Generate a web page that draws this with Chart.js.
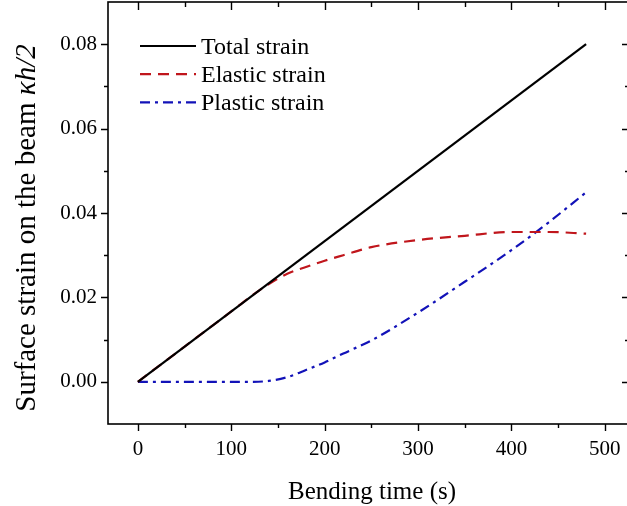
<!DOCTYPE html>
<html>
<head>
<meta charset="utf-8">
<script src="https://cdn.jsdelivr.net/npm/chart.js@4.4.1/dist/chart.umd.min.js"></script>
<style>
  html, body { margin: 0; padding: 0; background: #fff; overflow: hidden; }
  #wrap { width: 630px; height: 506px; }
</style>
</head>
<body>
<div id="wrap"><canvas id="c" width="630" height="506"></canvas></div>
<script>
// ---- data ----
const totalTime    = [0, 480];
const totalStrain  = [0, 0.080];
const elasticTime  = [0, 60, 100, 130, 145, 160, 180, 200, 220, 250, 300, 350, 400, 440, 480];
const elasticStrain= [0, 0.0100, 0.01667, 0.02167, 0.0238, 0.0256, 0.0272, 0.0287, 0.0300, 0.0319, 0.0336, 0.0346, 0.0355, 0.0355, 0.0351];
const plasticTime  = [0, 120, 140, 160, 180, 200, 220, 250, 300, 350, 400, 440, 480];
const plasticStrain= [0, 0, 0.0002, 0.0011, 0.0028, 0.0046, 0.0067, 0.0098, 0.0164, 0.0237, 0.0312, 0.0378, 0.0449];
const xMajorTicks  = [0, 100, 200, 300, 400, 500];
const xMinorTicks  = [50, 150, 250, 350, 450];
const yMajorTicks  = [0.00, 0.02, 0.04, 0.06, 0.08];
const yMinorTicks  = [0.01, 0.03, 0.05, 0.07];
const seriesNames  = ['Total strain', 'Elastic strain', 'Plastic strain'];
const xTitle = 'Bending time (s)';
const yTitlePlain = 'Surface strain on the beam ';
const yTitleItalic = '\u03BAh/2';

const pts = (xs, ys) => xs.map((x, i) => ({x: x, y: ys[i]}));

const SERIF = '"Liberation Serif", "Times New Roman", serif';
Chart.defaults.font.family = SERIF;
Chart.defaults.color = '#000';

const framePlugin = {
  id: 'frameTicks',
  afterDraw(chart) {
    const ctx = chart.ctx, a = chart.chartArea;
    const xs = chart.scales.x, ys = chart.scales.y;
    ctx.save();
    ctx.strokeStyle = '#000';
    ctx.lineWidth = 1.6;
    ctx.strokeRect(a.left, a.top, a.right - a.left, a.bottom - a.top);
    ctx.lineWidth = 1.4;
    ctx.beginPath();
    const xt = (vals, len) => vals.forEach(v => {
      const p = Math.round(xs.getPixelForValue(v)) + 0.5;
      ctx.moveTo(p, a.bottom); ctx.lineTo(p, a.bottom + len);      // outward bottom
      ctx.moveTo(p, a.top);    ctx.lineTo(p, a.top + len + 1);     // inward top
    });
    const yt = (vals, len) => vals.forEach(v => {
      const p = Math.round(ys.getPixelForValue(v)) + 0.5;
      ctx.moveTo(a.left, p);  ctx.lineTo(a.left - len, p);         // outward left
      ctx.moveTo(a.right, p); ctx.lineTo(a.right - len - 1, p);    // inward right
    });
    xt(xMajorTicks, 7); xt(xMinorTicks, 4);
    yt(yMajorTicks, 7); yt(yMinorTicks, 4);
    ctx.stroke();

    // legend
    ctx.font = '24px ' + SERIF;
    ctx.textAlign = 'left';
    ctx.textBaseline = 'alphabetic';
    chart.data.datasets.forEach((ds, i) => {
      const cy = 46 + i * 28.2;
      ctx.strokeStyle = ds.borderColor;
      ctx.lineWidth = ds.borderWidth;
      ctx.setLineDash(ds.borderDash || []);
      ctx.beginPath();
      ctx.moveTo(140, cy); ctx.lineTo(196, cy);
      ctx.stroke();
      ctx.setLineDash([]);
      ctx.fillStyle = '#000';
      ctx.fillText(ds.label, 201, cy + 7.5);
    });

    // y-axis title (mixed upright / italic)
    ctx.save();
    ctx.translate(35, 228);
    ctx.rotate(-Math.PI / 2);
    ctx.fillStyle = '#000';
    const fPlain = '29px ' + SERIF, fIt = 'italic 29px ' + SERIF;
    ctx.font = fPlain; const w1 = ctx.measureText(yTitlePlain).width;
    ctx.font = fIt; const w2 = ctx.measureText(yTitleItalic).width;
    const x0 = -(w1 + w2) / 2;
    ctx.textAlign = 'left';
    ctx.font = fPlain; ctx.fillText(yTitlePlain, x0, 0);
    ctx.font = fIt; ctx.fillText(yTitleItalic, x0 + w1, 0);
    ctx.restore();

    // x-axis title
    ctx.font = '25px ' + SERIF;
    ctx.textAlign = 'center';
    ctx.fillStyle = '#000';
    ctx.fillText(xTitle, 372, 499);
    ctx.restore();
  }
};

const noPad = s => { s.paddingLeft = 0; s.paddingRight = 0; s.paddingTop = 0; s.paddingBottom = 0; };

new Chart(document.getElementById('c'), {
  type: 'line',
  data: {
    datasets: [
      { label: seriesNames[0], data: pts(totalTime, totalStrain), borderColor: '#000000',
        borderWidth: 2.2, pointRadius: 0, fill: false, tension: 0, order: 0 },
      { label: seriesNames[1], data: pts(elasticTime, elasticStrain), borderColor: '#c0161c',
        borderWidth: 2.2, borderDash: [11, 7], pointRadius: 0, fill: false,
        cubicInterpolationMode: 'monotone', order: 1 },
      { label: seriesNames[2], data: pts(plasticTime, plasticStrain), borderColor: '#1212b8',
        borderWidth: 2.2, borderDash: [10, 5, 3, 5], pointRadius: 0, fill: false,
        cubicInterpolationMode: 'monotone', order: 2 }
    ]
  },
  options: {
    responsive: false,
    animation: false,
    events: [],
    layout: { padding: { left: 0, right: 0, top: 2, bottom: 0 } },
    plugins: { legend: { display: false }, tooltip: { enabled: false }, title: { display: false } },
    scales: {
      x: {
        type: 'linear', min: -32, max: 527,
        afterFit: s => { s.height = 82; noPad(s); },
        afterBuildTicks: s => { s.ticks = xMajorTicks.map(v => ({value: v})); },
        grid: { display: false, drawTicks: false },
        border: { display: false },
        ticks: { font: { size: 21 }, color: '#000', padding: 13, maxRotation: 0,
                 callback: v => String(v) }
      },
      y: {
        type: 'linear', min: -0.01, max: 0.09,
        afterFit: s => { s.width = 108; noPad(s); },
        afterBuildTicks: s => { s.ticks = yMajorTicks.map(v => ({value: v})); },
        grid: { display: false, drawTicks: false },
        border: { display: false },
        ticks: { font: { size: 21 }, color: '#000', padding: 11,
                 callback: v => Number(v).toFixed(2) }
      }
    }
  },
  plugins: [framePlugin]
});
</script>
</body>
</html>
